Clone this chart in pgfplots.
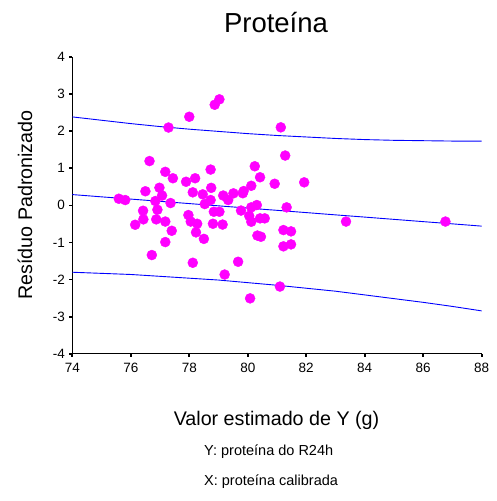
\documentclass[border=0pt]{standalone}
\usepackage{fontspec}
\setmainfont{Liberation Sans}
\usepackage{pgfplots}
\pgfplotsset{compat=1.18}
\usepackage{pgfplotstable}

\definecolor{ptmag}{RGB}{255,0,255}
\definecolor{lnblue}{RGB}{0,0,255}

% standardized residuals against fitted values
\pgfplotstableread{
x y
79.03 2.853
78.87 2.707
78.00 2.384
77.29 2.094
81.13 2.099
76.64 1.192
77.18 0.902
78.73 0.963
77.44 0.729
77.89 0.635
78.20 0.729
80.24 1.052
80.42 0.756
80.92 0.581
76.50 0.379
76.98 0.474
77.07 0.264
76.84 0.116
77.36 0.062
75.59 0.178
75.81 0.143
78.12 0.350
78.46 0.296
78.75 0.471
78.73 0.143
78.53 0.035
79.16 0.264
79.33 0.143
79.51 0.323
79.83 0.326
79.86 0.385
80.12 0.527
80.12 -0.054
80.31 0.008
76.42 -0.145
76.91 -0.118
77.97 -0.261
78.84 -0.172
79.03 -0.172
79.77 -0.140
80.05 -0.283
81.28 1.340
81.93 0.619
81.33 -0.054
83.36 -0.436
86.76 -0.436
76.43 -0.377
76.15 -0.522
76.87 -0.377
77.18 -0.436
77.40 -0.684
77.18 -0.988
76.72 -1.337
78.05 -0.436
78.27 -0.495
78.23 -0.727
78.50 -0.902
78.12 -1.545
78.81 -0.495
79.14 -0.517
79.21 -1.862
79.67 -1.518
80.12 -0.441
80.42 -0.350
80.58 -0.350
80.33 -0.813
80.45 -0.845
80.08 -2.503
81.10 -2.185
81.22 -0.665
81.48 -0.700
81.22 -1.103
81.48 -1.050
}\residuos

% fitted line with upper and lower limits
\pgfplotstableread{
x c up lo
74 0.290 2.38 -1.80
75 0.229 2.29 -1.83
76 0.169 2.20 -1.86
77 0.108 2.12 -1.91
78 0.048 2.05 -1.96
79 -0.013 1.99 -2.01
80 -0.074 1.93 -2.08
81 -0.134 1.88 -2.15
82 -0.195 1.84 -2.23
83 -0.256 1.80 -2.31
84 -0.316 1.77 -2.41
85 -0.377 1.75 -2.51
86 -0.438 1.74 -2.61
87 -0.498 1.73 -2.72
88 -0.559 1.73 -2.84
}\limites

\begin{document}
\begin{tikzpicture}
\useasboundingbox (0,0) rectangle (496pt,501pt);
\begin{axis}[
  at={(72.3pt,147pt)}, anchor=south west,
  scale only axis,
  width=409.4pt, height=297.3pt,
  xmin=74, xmax=88, ymin=-4, ymax=4,
  xtick={74,76,...,88}, ytick={-4,-3,...,4},
  axis x line*=bottom, axis y line*=left,
  axis line style={black, line width=1pt},
  tick align=outside,
  major tick length=3pt,
  tick style={black, line width=1.6pt},
  /pgf/number format/assume math mode=true,
  ticklabel style={font=\fontsize{13.5}{15}\selectfont},
  xticklabel style={yshift=-3pt},
  yticklabel style={xshift=-1pt},
]
\addplot[lnblue, line width=0.9pt] table[x=x, y=c] {\limites};
\addplot[lnblue, line width=0.9pt] table[x=x, y=up] {\limites};
\addplot[lnblue, line width=0.9pt] table[x=x, y=lo] {\limites};
\addplot[only marks, mark=*, mark size=5pt, ptmag, mark options={fill=ptmag, draw=ptmag}] table[x=x, y=y] {\residuos};
\end{axis}
\node[anchor=base] at (276pt,468pt) {\fontsize{27.5}{30}\selectfont Proteína};
\node[anchor=base] at (276.5pt,75.9pt) {\fontsize{19.7}{22}\selectfont Valor estimado de Y (g)};
\node[rotate=90] at (25pt,296pt) {\fontsize{19.7}{22}\selectfont Resíduo Padronizado};
\node[anchor=base west, inner sep=0pt] at (204pt,45.6pt) {\fontsize{14.5}{16}\selectfont Y: proteína do R24h};
\node[anchor=base west, inner sep=0pt] at (204pt,15.5pt) {\fontsize{14.5}{16}\selectfont X: proteína calibrada};
\end{tikzpicture}
\end{document}
